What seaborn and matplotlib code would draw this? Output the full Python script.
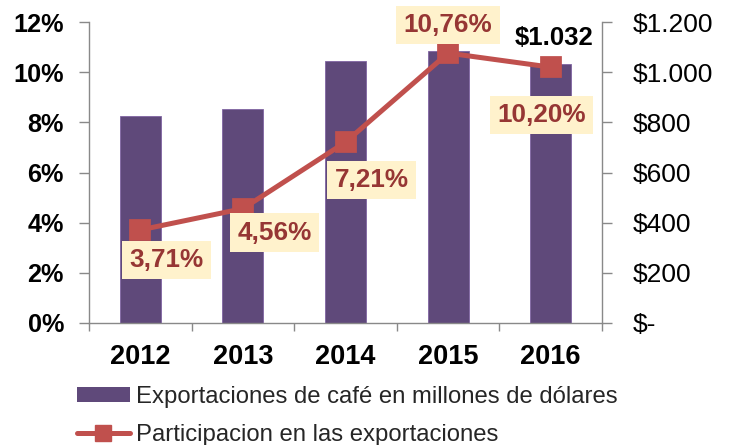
import matplotlib
matplotlib.use("Agg")
import matplotlib.pyplot as plt
import seaborn as sns
import numpy as np
import pandas as pd
from matplotlib.patches import Patch
from matplotlib.lines import Line2D
from matplotlib.ticker import FuncFormatter, FixedLocator

# ---- data ----
years = ["2012", "2013", "2014", "2015", "2016"]
exports_musd = [826, 854, 1045, 1083, 1032]
share_pct = [3.71, 4.56, 7.21, 10.76, 10.20]
share_labels = ["3,71%", "4,56%", "7,21%", "10,76%", "10,20%"]
bar_label_text = "$1.032"
legend_bars = "Exportaciones de café en millones de dólares"
legend_line = "Participacion en las exportaciones"

BAR_C = "#5F497A"
LINE_C = "#C0504D"
LBL_C = "#963634"
BOX_C = "#FFF2CC"
AX_C = "#898989"

sns.set_theme(style="white")
plt.rcParams["font.family"] = ["Liberation Sans", "DejaVu Sans"]

df = pd.DataFrame({"year": years, "exp": exports_musd, "pct": share_pct})

fig = plt.figure(figsize=(7.3, 4.45), dpi=100)
ax = fig.add_axes([89 / 730, 1 - 323 / 445, (602 - 89) / 730, (323 - 22) / 445])
ax2 = ax.twinx()

sns.barplot(data=df, x="year", y="exp", ax=ax2, color=BAR_C, saturation=1,
            width=0.4, edgecolor="#8064A2", linewidth=0.6)
sns.pointplot(data=df, x="year", y="pct", ax=ax, color=LINE_C, markers="s",
              markersize=13, linewidth=3.6, errorbar=None)

ax.set_zorder(ax2.get_zorder() + 1)
ax.patch.set_visible(False)

ax.set_xlim(-0.5, 4.5)
ax2.set_xlim(-0.5, 4.5)
ax.set_ylim(0, 12)
ax2.set_ylim(0, 1200)
ax.set_xlabel("")
ax.set_ylabel("")
ax2.set_xlabel("")
ax2.set_ylabel("")

ax.set_yticks(np.arange(0, 13, 2))
ax.yaxis.set_major_formatter(FuncFormatter(lambda v, p: f"{v:.0f}%"))
ax2.set_yticks(np.arange(0, 1201, 200))


def money(v, p):
    if v == 0:
        return "$-"
    return "$" + f"{int(v):,}".replace(",", ".")


ax2.yaxis.set_major_formatter(FuncFormatter(money))

ax.set_xticks(range(len(years)))
ax.set_xticklabels(years)
ax.xaxis.set_minor_locator(FixedLocator(np.arange(-0.5, 5, 1)))
ax.tick_params(axis="x", which="major", length=0, pad=15, labelsize=19.5,
               colors="black")
for t in ax.get_xticklabels():
    t.set_fontweight("bold")
ax.tick_params(axis="x", which="minor", length=6, width=1, color=AX_C,
               direction="out", bottom=True)
ax2.tick_params(axis="x", which="both", bottom=False, labelbottom=False)

ax.tick_params(axis="y", which="major", length=7, width=1, color=AX_C,
               direction="out", pad=11, labelsize=18.2, labelcolor="black",
               left=True)
for t in ax.get_yticklabels():
    t.set_fontweight("bold")
ax2.tick_params(axis="y", which="major", length=7, width=1, color=AX_C,
                direction="out", pad=15, labelsize=19, labelcolor="black",
                right=True)

for a in (ax, ax2):
    a.grid(False)
    a.spines["top"].set_visible(False)
    for s in ("left", "right", "bottom"):
        a.spines[s].set_color(AX_C)
        a.spines[s].set_linewidth(1.0)
ax.spines["right"].set_visible(False)
ax2.spines["left"].set_visible(False)
ax2.spines["bottom"].set_visible(False)

# data labels for the line
offsets = [(26, -30), (32, -24), (26, -38), (0, 28), (-9, -48)]
for i, (lbl, (dx, dy)) in enumerate(zip(share_labels, offsets)):
    ax.annotate(lbl, (i, share_pct[i]), xytext=(dx, dy),
                textcoords="offset pixels", ha="center", va="center",
                fontsize=18.8, fontweight="bold", color=LBL_C,
                bbox=dict(boxstyle="square,pad=0.28", fc=BOX_C, ec="none"),
                zorder=5)

# bar label for 2016
ax2.annotate(bar_label_text, (4, exports_musd[4]), xytext=(3, 26),
             textcoords="offset pixels", ha="center", va="center",
             fontsize=18.5, fontweight="bold", color="black")

handles = [Patch(facecolor=BAR_C, edgecolor="none"),
           Line2D([0], [0], color=LINE_C, lw=3.6, marker="s", markersize=11)]
fig.legend(handles, [legend_bars, legend_line], loc="upper left",
           bbox_to_anchor=(77 / 730, 1 - 386 / 445), frameon=False,
           fontsize=17.2, handlelength=2.2, handleheight=0.6,
           handletextpad=0.25, labelspacing=0.66, borderpad=0,
           borderaxespad=0)

fig.savefig("out.png", dpi=100)
